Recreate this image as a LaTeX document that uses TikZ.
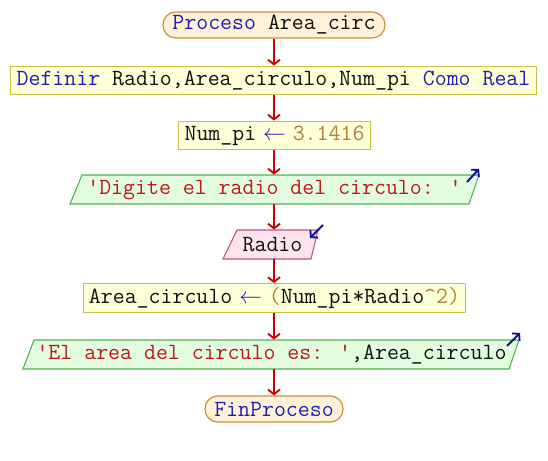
\documentclass[tikz,border=0pt]{standalone}
\usepackage{fontspec}
\usetikzlibrary{arrows.meta,calc}
\definecolor{kw}{HTML}{2020B0}
\definecolor{idc}{HTML}{101010}
\definecolor{str}{HTML}{C01818}
\definecolor{num}{HTML}{B08040}
\definecolor{flow}{HTML}{CC0000}
\definecolor{termfill}{HTML}{FFF2D8}
\definecolor{termdraw}{HTML}{C89040}
\definecolor{procfill}{HTML}{FFFFD8}
\definecolor{procdraw}{HTML}{C8C048}
\definecolor{outfill}{HTML}{E2FCE0}
\definecolor{outdraw}{HTML}{50B050}
\definecolor{infill}{HTML}{FFE4F0}
\definecolor{indraw}{HTML}{C05080}
\definecolor{ioarrow}{HTML}{1010A0}
\newcommand{\asgn}{\makebox[1.575em]{\textcolor{kw}{$\leftarrow$}}}
\tikzset{
  every node/.style={font=\ttfamily\fontsize{17.4pt}{19pt}\selectfont, text=idc, inner sep=0pt, anchor=center},
  term/.style={draw=termdraw, fill=termfill, line width=0.9pt, rounded corners=9.5pt, minimum height=19.5pt},
  proc/.style={draw=procdraw, fill=procfill, line width=0.9pt, minimum height=21.5pt},
  iobox/.style={minimum height=22pt},
  outpar/.style={draw=outdraw, fill=outfill, line width=0.8pt},
  inpar/.style={draw=indraw, fill=infill, line width=0.8pt},
  flowarrow/.style={draw=flow, line width=1.6pt, -{Straight Barb[length=3.5pt,width=9pt,line width=1.4pt]}},
  ioarr/.style={draw=ioarrow, line width=1.5pt, -{Straight Barb[length=3.5pt,width=8pt,line width=1.4pt]}}
}
\begin{document}
\begin{tikzpicture}[x=0.75pt,y=-0.75pt]
\useasboundingbox (0,0) rectangle (548,460);
% start
\node[term, minimum width=166.5pt] (start) at (274,25) {\textcolor{kw}{Proceso} Area\_circ};
% definir
\node[proc, minimum width=395pt] (def) at (273.5,80.5) {\textcolor{kw}{Definir} Radio,Area\_circulo,Num\_pi \textcolor{kw}{Como Real}};
% assign pi
\node[proc, minimum width=144.5pt] (pi) at (274.5,135.5) {Num\_pi\asgn\textcolor{num}{3.1416}};
% output 1
\draw[outpar] (70,204) -- (82,175) -- (479,175) -- (469,204) -- cycle;
\node[iobox, minimum width=297pt] (out1) at (274.5,189.5) {\textcolor{str}{'Digite el radio del circulo: '}};
% input
\draw[inpar] (223,259) -- (237,230) -- (318,230) -- (311,259) -- cycle;
\node[iobox, minimum width=60pt] (in1) at (272.5,244.5) {Radio};
% assign area
\node[proc, minimum width=287pt] (area) at (274.5,298) {Area\_circulo\asgn\textcolor{num}{(}Num\_pi*Radio\textcolor{num}{\textasciicircum 2)}};
% output 2
\draw[outpar] (23,369) -- (34,340) -- (519,340) -- (509,369) -- cycle;
\node[iobox, minimum width=363pt] (out2) at (271.5,354.5) {\textcolor{str}{'El area del circulo es: '},Area\_circulo};
% end
\node[term, minimum width=103.5pt] (fin) at (274,409) {\textcolor{kw}{FinProceso}};
% flow arrows
\draw[flowarrow] (start.south) -- (def.north -| start.south);
\draw[flowarrow] (def.south -| start.south) -- (pi.north -| start.south);
\draw[flowarrow] (pi.south -| start.south) -- (out1.north -| start.south);
\draw[flowarrow] (out1.south -| start.south) -- (in1.north -| start.south);
\draw[flowarrow] (in1.south -| start.south) -- (area.north -| start.south);
\draw[flowarrow] (area.south -| start.south) -- (out2.north -| start.south);
\draw[flowarrow] (out2.south -| start.south) -- (fin.north);
% io markers
\draw[ioarr] (467,182) -- (479,169);
\draw[ioarr] (323,225) -- (310,238);
\draw[ioarr] (507,346) -- (520,333);
\end{tikzpicture}
\end{document}
